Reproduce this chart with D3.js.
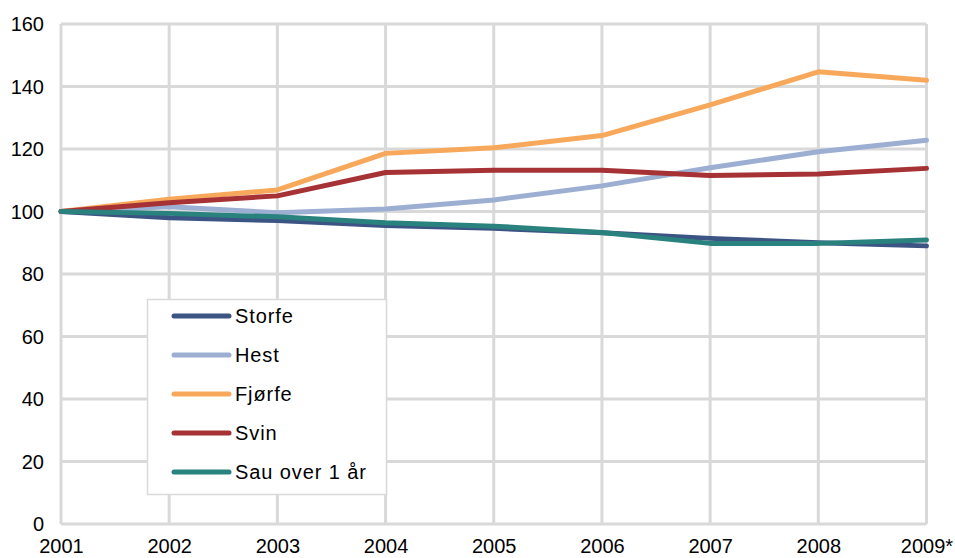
<!DOCTYPE html>
<html><head><meta charset="utf-8">
<script src="https://cdn.jsdelivr.net/npm/d3@7"></script>
<style>body{margin:0;background:#fff}svg{display:block}text{font-family:"Liberation Sans",Arial,sans-serif;fill:#000}</style>
</head><body><svg id="c" width="955" height="558"></svg>
<script>
const years = ["2001","2002","2003","2004","2005","2006","2007","2008","2009*"];
const yTicks = [0,20,40,60,80,100,120,140,160];
const seriesNames = ["Storfe","Hest","Fjørfe","Svin","Sau over 1 år"];
const storfe = [100,98.0,97.1,95.5,94.6,93.2,91.4,90.0,89.0];
const hest   = [100,101.5,99.6,100.8,103.7,108.2,114.0,119.1,122.8];
const fjorfe = [100,103.9,106.9,118.6,120.4,124.3,134.1,144.7,142.0];
const svin   = [100,102.8,105.0,112.5,113.2,113.2,111.5,112.0,113.8];
const sau    = [100,99.4,98.3,96.4,95.3,93.3,89.8,89.8,90.9];
const colors = ["#3C5484","#9CAFD3","#F7A85B","#A63235","#2A827E"];
const values = [storfe,hest,fjorfe,svin,sau];

const svg = d3.select("#c");
const x = d3.scalePoint().domain(years).range([61,926.5]);
const y = d3.scaleLinear().domain([0,160]).range([524,24]);
const grid = "#D9D9D9";

svg.append("g").selectAll("line").data(yTicks).join("line")
  .attr("x1",61).attr("x2",926.5).attr("y1",d=>y(d)).attr("y2",d=>y(d))
  .attr("stroke",grid).attr("stroke-width",3);
svg.append("g").selectAll("line").data(years).join("line")
  .attr("x1",d=>x(d)).attr("x2",d=>x(d)).attr("y1",y(160)).attr("y2",y(0))
  .attr("stroke",grid).attr("stroke-width",3);

const yAxis = svg.append("g").attr("transform","translate(61,0)")
  .call(d3.axisLeft(y).tickValues(yTicks).tickSize(0).tickPadding(17));
yAxis.select(".domain").remove();
yAxis.selectAll("text").style("font-size","20px").style("font-family","Liberation Sans, Arial, sans-serif").attr("fill","#000").attr("dy","0.33em");

const xAxis = svg.append("g").attr("transform","translate(0,539)")
  .call(d3.axisBottom(x).tickSize(0).tickPadding(0));
xAxis.select(".domain").remove();
xAxis.selectAll("text").style("font-size","20px").style("font-family","Liberation Sans, Arial, sans-serif").attr("fill","#000");

const line = d3.line().x((d,i)=>x(years[i])).y(d=>y(d));
values.forEach((v,i)=>{
  svg.append("path").datum(v).attr("d",line).attr("fill","none")
    .attr("stroke",colors[i]).attr("stroke-width",5).attr("stroke-linejoin","round").attr("stroke-linecap","round");
});

// legend
const lg = svg.append("g");
lg.append("rect").attr("x",147.5).attr("y",299.5).attr("width",239).attr("height",195)
  .attr("fill","#fff").attr("stroke",grid).attr("stroke-width",1.5);
const rowY = d3.scalePoint().domain(seriesNames).range([316,472]);
seriesNames.forEach((n,i)=>{
  lg.append("line").attr("x1",174).attr("x2",229).attr("y1",rowY(n)).attr("y2",rowY(n))
    .attr("stroke",colors[i]).attr("stroke-width",5).attr("stroke-linecap","round");
  lg.append("text").attr("x",235).attr("y",rowY(n)).attr("dy","0.35em")
    .style("font-size","20px").style("letter-spacing","0.9px").text(n);
});
</script></body></html>
